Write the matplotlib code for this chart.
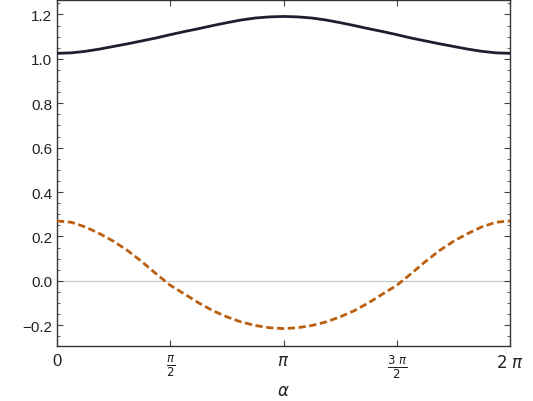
import numpy as np
import matplotlib
matplotlib.use("Agg")
import matplotlib.pyplot as plt
from matplotlib.ticker import MultipleLocator, FixedLocator

plt.rcParams['font.family'] = ['Liberation Sans', 'DejaVu Sans']
plt.rcParams['mathtext.fontset'] = 'dejavusans'

# alpha sampled every pi/16 on [0, pi]; curves are symmetric about pi
k = np.arange(17)
upper_half = [1.025, 1.027, 1.034, 1.044, 1.056, 1.068, 1.081, 1.094, 1.109,
              1.123, 1.136, 1.150, 1.163, 1.175, 1.184, 1.189, 1.191]
lower_half = [0.270, 0.264, 0.243, 0.213, 0.178, 0.136, 0.086, 0.032, -0.020,
              -0.059, -0.099, -0.134, -0.162, -0.185, -0.201, -0.211, -0.215]

alpha = np.arange(33) * np.pi / 16
upper = upper_half + upper_half[-2::-1]
lower = lower_half + lower_half[-2::-1]

xticks = [0, np.pi / 2, np.pi, 3 * np.pi / 2, 2 * np.pi]
xlabels = ['0', r'$\frac{\pi}{2}$', r'$\pi$', r'$\frac{3\ \pi}{2}$', r'$2\ \pi$']

fig = plt.figure(figsize=(5.33, 4.02), dpi=100)
ax = fig.add_axes([0.107, 0.137, 0.850, 0.861])

ax.axhline(0, color='#c8c8c8', lw=0.9, zorder=1)
ax.plot(alpha, upper, color='#211c30', lw=2.0, zorder=3)
ax.plot(alpha, lower, color='#bb5f0f', lw=2.0, dashes=(2.6, 1.3), zorder=3)

ax.set_xlim(0, 2 * np.pi)
ax.set_ylim(-0.293, 1.266)
ax.xaxis.set_major_locator(FixedLocator(xticks))
ax.set_xticklabels(xlabels)
ax.yaxis.set_major_locator(MultipleLocator(0.2))
ax.yaxis.set_minor_locator(MultipleLocator(0.05))
ax.yaxis.set_major_formatter(lambda v, p: f'{v:.1f}'.replace('-', '\u2212'))

ax.tick_params(which='both', direction='in', top=True, right=True,
               color='#444444', labelsize=11, labelcolor='#222222')
ax.tick_params(which='major', length=4.5, width=0.8)
ax.tick_params(which='minor', length=2.5, width=0.6)
ax.tick_params(axis='x', pad=5, labelsize=12)
for s in ax.spines.values():
    s.set_color('#333333')
    s.set_linewidth(1.0)

ax.set_xlabel(r'$\alpha$', fontsize=12, color='#222222', labelpad=2)

fig.savefig('out.png', dpi=100)
